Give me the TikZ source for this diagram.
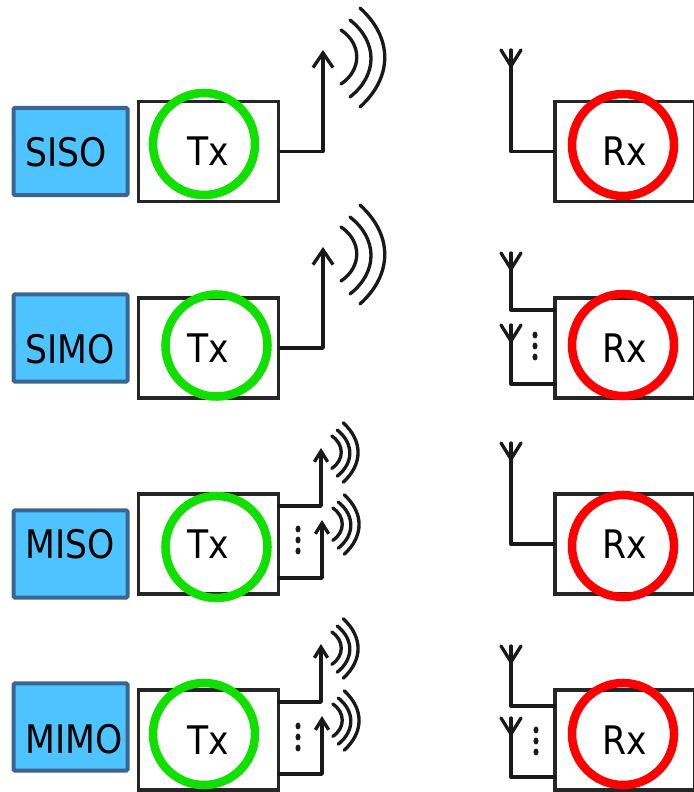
\documentclass[tikz,border=0pt]{standalone}
\usepackage{fontspec}
\setmainfont[FakeStretch=0.88]{DejaVu Sans}
\usetikzlibrary{arrows.meta,positioning,calc}
\definecolor{modebg}{HTML}{4DC4FF}
\definecolor{modeline}{HTML}{3A6494}
\definecolor{txgreen}{HTML}{10E000}
\definecolor{rxred}{HTML}{FF0000}
\tikzset{
	modebox/.style={draw=modeline,fill=modebg,line width=3pt,rounded corners=1pt,minimum width=85.5pt,minimum height=65.5pt},
	modetext/.style={font=\fontsize{29.5}{29.5}\selectfont,inner sep=0pt},
	unitbox/.style={draw=black!85,line width=2.4pt,inner sep=0pt,minimum height=75pt,font=\fontsize{29.5}{29.5}\selectfont},
	txbox/.style={unitbox,minimum width=105.5pt},
	rxbox/.style={unitbox,minimum width=105pt},
	ring/.style={circle,line width=6.4pt,minimum size=76.5pt,inner sep=0pt},
	link/.style={line width=2.5pt,draw=black!90,line cap=round,line join=round},
	bigfeed/.style={link,-{Straight Barb[length=11pt,width=15pt,line width=2.5pt]}},
	smallfeed/.style={link,-{Straight Barb[length=8pt,width=10pt,line width=2.5pt]}},
	wave/.style={line width=2.5pt,draw=black!90,line cap=round}
}
\newcommand{\radiowaves}[2]{%
	\begin{scope}[shift={(#1)},scale=#2]
		\draw[wave] (37,-42) .. controls (70,-12) and (70,27) .. (37,57);
		\draw[wave] (27,-30) .. controls (55,-8) and (55,25) .. (27,47);
		\draw[wave] (18,-20) .. controls (39,-6) and (39,20) .. (18,34);
	\end{scope}}
\newcommand{\antennahead}[1]{%
	\draw[link] ($(#1)+(-10,0)$) -- ($(#1)+(0,16)$) -- ($(#1)+(10,0)$);}
\newcommand{\moredots}[1]{%
	\foreach \dy in {-11,0,11}
		\fill[black!90] ($(#1)+(0,\dy)$) ellipse (1.9pt and 2.6pt);}
\begin{document}
\begin{tikzpicture}[x=0.75pt,y=-0.75pt]
	\useasboundingbox (0,0) rectangle (693,792);
	
	\node[modebox] (sisobox) at (70.5,151.5) {};
	\node[modebox] (simobox) at (70.5,338) {};
	\node[modebox] (misobox) at (70.5,554) {};
	\node[modebox] (mimobox) at (70.5,727) {};
	\node[modetext] (sisotext) at (66.5,152) {SISO};
	\node[modetext] (simotext) at (70,349) {SIMO};
	\node[modetext] (misotext) at (70,544) {MISO};
	\node[modetext] (mimotext) at (74,739) {MIMO};
	
	\node[txbox] (txa) at (208.5,151.5) {Tx};
	\node[txbox] (txb) at (208.5,348) {Tx};
	\node[txbox] (txc) at (208.5,544) {Tx};
	\node[txbox] (txd) at (208.5,740) {Tx};
	\node[rxbox] (rxa) at (625,151.5) {Rx};
	\node[rxbox] (rxb) at (625,348) {Rx};
	\node[rxbox] (rxc) at (625,544) {Rx};
	\node[rxbox] (rxd) at (625,740) {Rx};
	
	\node[ring,draw=txgreen] (ringa) at (204,144) {};
	\node[ring,draw=txgreen] (ringb) at (216.5,345.5) {};
	\node[ring,draw=txgreen] (ringc) at (216.5,547) {};
	\node[ring,draw=txgreen] (ringd) at (204,734) {};
	\node[ring,draw=rxred] (ringe) at (623,145) {};
	\node[ring,draw=rxred] (ringf) at (623,345) {};
	\node[ring,draw=rxred] (ringg) at (623,546) {};
	\node[ring,draw=rxred] (ringh) at (623,734) {};
	
	\coordinate (tipa) at (323,50);
	\coordinate (tipb) at (323,247);
	\coordinate (tipc) at (321,448);
	\coordinate (tipd) at (322,520);
	\coordinate (tipe) at (321,644);
	\coordinate (tipf) at (322,716);
	\coordinate (portc) at (279,506);
	\coordinate (portd) at (279,578);
	\coordinate (porte) at (279,702);
	\coordinate (portf) at (279,774);
	
	\draw[bigfeed] (txa.east) -| (tipa);
	\draw[bigfeed] (txb.east) -| (tipb);
	\draw[smallfeed] (portc) -| (tipc);
	\draw[smallfeed] (portd) -| (tipd);
	\draw[smallfeed] (porte) -| (tipe);
	\draw[smallfeed] (portf) -| (tipf);
	
	\radiowaves{tipa}{1}
	\radiowaves{tipb}{1}
	\radiowaves{tipc}{0.6}
	\radiowaves{tipd}{0.6}
	\radiowaves{tipe}{0.6}
	\radiowaves{tipf}{0.6}
	
	\coordinate (anta) at (511,50);
	\coordinate (antb) at (511,253);
	\coordinate (antc) at (511,325);
	\coordinate (antd) at (511,443);
	\coordinate (ante) at (511,646);
	\coordinate (antf) at (511,718);
	\coordinate (portg) at (555,310);
	\coordinate (porth) at (555,384);
	\coordinate (porti) at (555,706);
	\coordinate (portj) at (555,777);
	
	\draw[link] (anta) |- (rxa.west);
	\draw[link] (antb) |- (portg);
	\draw[link] (antc) |- (porth);
	\draw[link] (antd) |- (rxc.west);
	\draw[link] (ante) |- (porti);
	\draw[link] (antf) |- (portj);
	
	\antennahead{anta}
	\antennahead{antb}
	\antennahead{antc}
	\antennahead{antd}
	\antennahead{ante}
	\antennahead{antf}
	
	\moredots{298,540}
	\moredots{298,737}
	\moredots{535,346}
	\moredots{536,741}
\end{tikzpicture}
\end{document}
